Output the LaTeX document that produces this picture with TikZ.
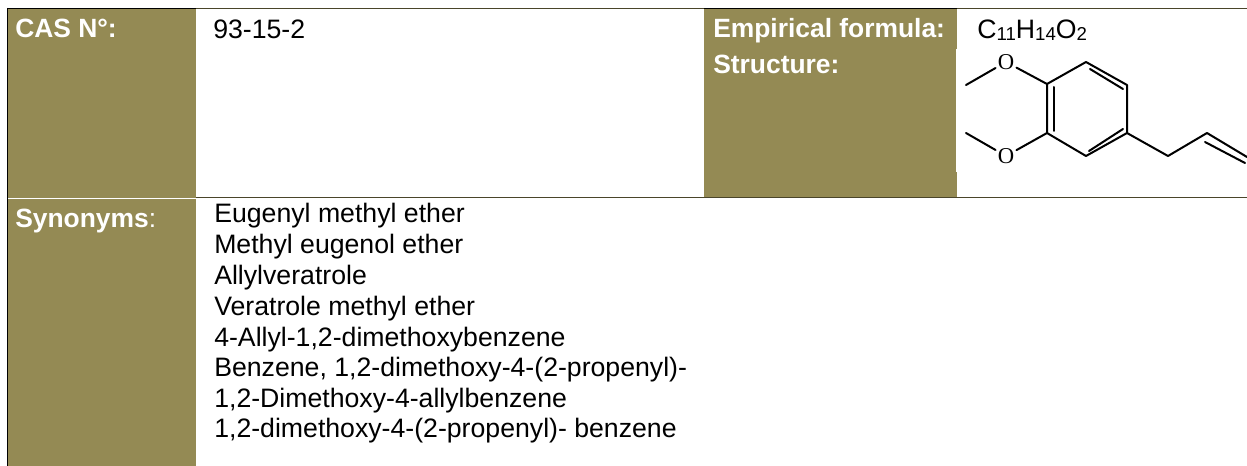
\documentclass[tikz,border=0pt]{standalone}
\usepackage{fontspec}
\setmainfont{Liberation Sans}
\newfontfamily\atomfont{Liberation Serif}
\definecolor{olive}{HTML}{948A54}
\definecolor{rulec}{HTML}{4A452A}
\newcommand{\subnum}[1]{\raisebox{-1pt}{\fontsize{14}{16}\selectfont #1}}
\tikzset{
 x=0.75pt,y=-0.75pt,
 band/.style={fill=olive,draw=none},
 rulel/.style={draw=rulec,line width=0.75pt},
 head/.style={anchor=base west,inner sep=0pt,font=\fontsize{19.8}{23}\selectfont\bfseries,text=white},
 body/.style={anchor=base west,inner sep=0pt,font=\fontsize{20}{23}\selectfont,text=black},
 atom/.style={inner sep=1.5pt,font=\atomfont\fontsize{17}{19}\selectfont,text=black},
 bond/.style={draw=black,line width=1.5pt,line cap=round,line join=round}
}
\begin{document}
\begin{tikzpicture}
\useasboundingbox (0,0) rectangle (1247,466);
\fill[white] (0,0) rectangle (1247,466);
\fill[band] (8,9) rectangle (196,198);
\fill[band] (8,199) rectangle (196,466);
\fill[band] (704,9) rectangle (957,198);
\fill[white] (956,49) rectangle (1247,172);
\draw[rulel] (196,8.5) -- (1247,8.5);
\draw[rulel] (196,198) -- (1247,198);
\draw[black,line width=0.75pt] (7.5,8.5) -- (196,8.5);
\draw[black,line width=0.75pt] (704,8.5) -- (957,8.5);
\draw[black,line width=0.75pt] (7.5,8) -- (7.5,466);
\draw[white,line width=0.75pt] (8,198.5) -- (196,198.5);
\node[head] (cas) at (15,38) {CAS N°:};
\node[head] (syn) at (15,228) {Synonyms\textmd{:}};
\node[head] (emp) at (713,38) {Empirical formula:};
\node[head] (str) at (713,74) {Structure:};
\node[body] (num) at (213,39) {93-15-2};
\node[body] (form) at (977,39) {C\subnum{11}H\subnum{14}O\subnum{2}};
\node[body] (s1) at (214,223) {Eugenyl methyl ether};
\node[body] (s2) at (214,254) {Methyl eugenol ether};
\node[body] (s3) at (214,285) {Allylveratrole};
\node[body] (s4) at (214,316) {Veratrole methyl ether};
\node[body] (s5) at (214,347) {4-Allyl-1,2-dimethoxybenzene};
\node[body] (s6) at (214,377) {Benzene, 1,2-dimethoxy-4-(2-propenyl)-};
\node[body] (s7) at (214,408) {1,2-Dimethoxy-4-allylbenzene};
\node[body] (s8) at (214,438) {1,2-dimethoxy-4-(2-propenyl)- benzene};
\node[atom] (o1) at (1006,62) {O};
\node[atom] (o2) at (1006,156) {O};
\coordinate (m1) at (966,85);
\coordinate (m2) at (966,133);
\coordinate (r1) at (1047,84);
\coordinate (r2) at (1086,62);
\coordinate (r3) at (1127,85);
\coordinate (r4) at (1127,133);
\coordinate (r5) at (1086,156);
\coordinate (r6) at (1047,133);
\coordinate (a1) at (1168,156);
\coordinate (a2) at (1207,133);
\coordinate (a3) at (1247,157);
\draw[bond] (m1) -- (o1);
\draw[bond] (o1) -- (r1);
\draw[bond] (m2) -- (o2);
\draw[bond] (o2) -- (r6);
\draw[bond] (r1) -- (r2) -- (r3) -- (r4) -- (r5) -- (r6) -- cycle;
\draw[bond] (1054,87) -- (1054,131);
\draw[bond] (1090,69) -- (1123,89);
\draw[bond] (1089,151) -- (1123,129);
\draw[bond] (r4) -- (a1) -- (a2) -- (a3);
\draw[bond] (1205,142) -- (1245,163);
\end{tikzpicture}
\end{document}
